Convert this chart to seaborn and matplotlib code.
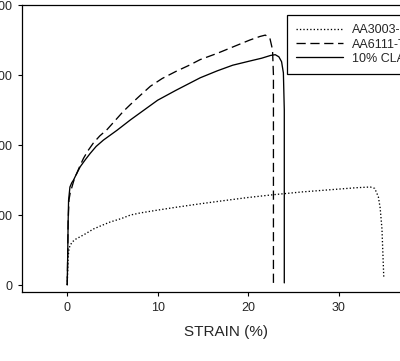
import pandas as pd
import numpy as np
import matplotlib
matplotlib.use("Agg")
import matplotlib.pyplot as plt
import seaborn as sns

# Tensile curves (strain in %, stress in MPa)
labels = ["AA3003-O", "AA6111-T4", "10% CLAD"]

strain_3003 = [0, 0.05, 0.1, 0.2, 0.33, 0.6, 1.0, 1.44, 2.0, 2.9, 3.8, 4.75,
               6.0, 7.0, 8.1, 10.0, 12.0, 14.7, 17.0, 20.0, 22.8, 26.0, 30.0,
               32.0, 33.5, 34.0, 34.4, 34.6, 34.8, 35.0]
stress_3003 = [0, 20, 40, 52, 57, 62, 66, 69, 73, 80, 85, 90,
               95, 100, 103, 107, 111, 116, 120, 125, 129, 133, 137,
               139, 140, 138, 126, 110, 80, 11]

strain_6111 = [0, 0.05, 0.1, 0.2, 0.35, 0.5, 0.75, 1.07, 1.4, 1.8, 2.3, 2.9,
               3.6, 4.4, 5.3, 6.2, 7.0, 8.0, 9.2, 10.5, 12.0, 13.5, 14.7, 16.6,
               18.3, 20.2, 21.3, 21.9, 22.4, 22.7, 22.8, 22.8]
stress_6111 = [0, 40, 90, 122, 133, 139, 150, 160, 170, 181, 192, 203,
               213, 222, 235, 248, 258, 270, 284, 295, 305, 314, 322, 331,
               340, 350, 355, 357, 353, 336, 300, 3]

strain_clad = [0, 0.05, 0.1, 0.15, 0.3, 0.5, 0.7, 1.0, 1.44, 2.0, 2.54, 3.2,
               4.0, 5.5, 7.0, 8.5, 10.0, 12.0, 14.7, 16.6, 18.3, 20.2, 21.5,
               22.5, 23.0, 23.4, 23.7, 23.9, 24.0, 24.0]
stress_clad = [0, 40, 90, 121, 140, 146, 150, 158, 169, 179, 188, 198,
               207, 221, 236, 250, 264, 278, 296, 306, 314, 320, 324,
               328, 329, 326, 319, 303, 250, 3]

x_ticks = [0, 10, 20, 30]
y_ticks = [0, 100, 200, 300, 400]


def build_frame():
    """Stack the three curves into one long table for seaborn."""
    parts = []
    for lab, xs, ys in zip(labels,
                           [strain_3003, strain_6111, strain_clad],
                           [stress_3003, stress_6111, stress_clad]):
        parts.append(pd.DataFrame({"strain": xs, "stress": ys, "alloy": lab}))
    return pd.concat(parts, ignore_index=True)


def main():
    sns.set_style("ticks")
    plt.rcParams["font.family"] = ["Liberation Sans", "DejaVu Sans"]

    df = build_frame()

    fig = plt.figure(figsize=(4.0, 3.61), dpi=100)
    # axes run past the right/left edges of the canvas, like the cropped original
    ax = fig.add_axes([22 / 400, (361 - 292) / 361, (429 - 22) / 400, (292 - 5) / 361])

    dash_map = {labels[0]: (1, 1.6), labels[1]: (7, 3.5), labels[2]: ""}
    sns.lineplot(data=df, x="strain", y="stress", style="alloy", dashes=dash_map,
                 color="black", linewidth=0.95, sort=False, estimator=None, ax=ax)

    ax.set_xlim(-5, 40)
    ax.set_ylim(-10, 400)
    ax.set_xticks(x_ticks)
    ax.set_yticks(y_ticks)
    ax.tick_params(labelsize=9, length=3, width=0.8, pad=4, color="black")
    ax.set_xlabel("STRAIN (%)", fontsize=11, labelpad=8)
    ax.set_ylabel("")
    for sp in ax.spines.values():
        sp.set_linewidth(0.9)
        sp.set_color("black")

    leg = ax.legend(loc="upper left", bbox_to_anchor=((287 - 22) / 407, (292 - 15) / 287),
                    borderaxespad=0, fontsize=9, frameon=True, fancybox=False,
                    edgecolor="black", framealpha=1, handlelength=3.7,
                    handletextpad=0.75, labelspacing=0.17, borderpad=0.75)
    leg.get_frame().set_linewidth(0.9)

    fig.savefig("out.png", dpi=100)


if __name__ == "__main__":
    main()
